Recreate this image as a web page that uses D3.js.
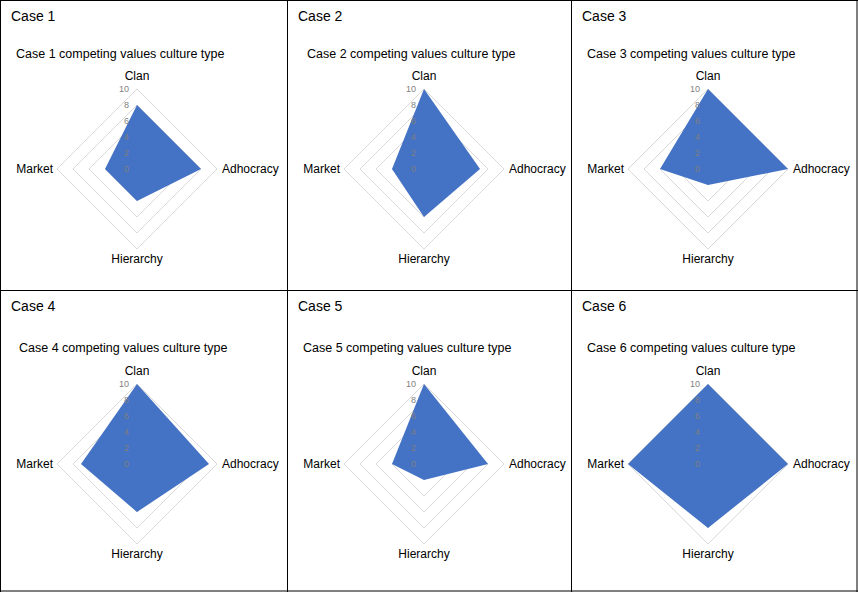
<!DOCTYPE html>
<html>
<head>
<meta charset="utf-8">
<script src="https://cdn.jsdelivr.net/npm/d3@7"></script>
<style>
  body { margin: 0; background: #fff; }
  svg { display: block; font-family: "Liberation Sans", Arial, sans-serif; }
</style>
</head>
<body>
<svg id="chart" width="858" height="592"></svg>
<script>
// data
var cases = ["Case 1", "Case 2", "Case 3", "Case 4", "Case 5", "Case 6"];
var axes = ["Clan", "Adhocracy", "Hierarchy", "Market"];
var clan      = [8, 10, 10, 10, 10, 10];
var adhocracy = [8, 7, 10, 9, 8, 10];
var hierarchy = [4, 6, 2, 6, 2, 8];
var market    = [4, 4, 6, 7, 4, 10];
var ticks = [0, 2, 4, 6, 8, 10];

// layout of the 3 x 2 grid
var colEdges = [0.5, 287.5, 571.5, 857];
var rowEdges = [0.5, 290.5, 591];
var titleDx = [16, 20, 16, 19, 16, 16];
var rowTop = [0, 5]; // second row sits a little lower inside its cell

var svg = d3.select("#chart");
var r = d3.scaleLinear().domain([0, 10]).range([0, 80]);
var angle = d3.scalePoint().domain(axes.concat(["_"])).range([0, 2 * Math.PI]);

var radar = d3.lineRadial()
    .angle(d => angle(d.axis))
    .radius(d => r(d.value))
    .curve(d3.curveLinearClosed);

// panel borders
svg.selectAll(".vline").data(colEdges).enter().append("line")
    .attr("x1", d => d).attr("x2", d => d)
    .attr("y1", 0).attr("y2", 592)
    .attr("stroke", "#000").attr("stroke-width", 1);
svg.selectAll(".hline").data(rowEdges).enter().append("line")
    .attr("x1", 0).attr("x2", 858)
    .attr("y1", d => d).attr("y2", d => d)
    .attr("stroke", "#000").attr("stroke-width", 1);

cases.forEach(function (name, i) {
    var col = i % 3, row = Math.floor(i / 3);
    var x0 = Math.floor(colEdges[col]), y0 = Math.floor(rowEdges[row]);
    var g = svg.append("g").attr("transform", "translate(" + x0 + "," + y0 + ")");

    g.append("text").attr("x", 11).attr("y", 21)
        .attr("font-size", 14).text(name);

    var cy = 169 + rowTop[row];
    g.append("text").attr("x", titleDx[i]).attr("y", 58 + rowTop[row] - (row ? 1 : 0))
        .attr("font-size", 12.5).text(name + " competing values culture type");

    var c = g.append("g").attr("transform", "translate(137," + cy + ")");

    // grid rings
    c.selectAll(".ring").data(ticks.slice(1)).enter().append("path")
        .attr("d", t => radar(axes.map(a => ({ axis: a, value: t }))))
        .attr("fill", "none").attr("stroke", "#d9d9d9").attr("stroke-width", 1);

    var vals = [clan[i], adhocracy[i], hierarchy[i], market[i]];
    c.append("path")
        .attr("d", radar(axes.map((a, k) => ({ axis: a, value: vals[k] }))))
        .attr("fill", "#4472c4");

    // radial tick labels
    c.selectAll(".tick").data(ticks).enter().append("text")
        .attr("x", -8).attr("y", t => -r(t)).attr("dy", "0.35em")
        .attr("text-anchor", "end").attr("font-size", 9).attr("fill", "#7f7f7f")
        .text(t => t);

    // category labels
    c.append("text").attr("x", 0).attr("y", -r(10) - 9)
        .attr("text-anchor", "middle").attr("font-size", 12).text(axes[0]);
    c.append("text").attr("x", r(10) + 5).attr("y", 4)
        .attr("text-anchor", "start").attr("font-size", 12).text(axes[1]);
    c.append("text").attr("x", 0).attr("y", r(10) + 14)
        .attr("text-anchor", "middle").attr("font-size", 12).text(axes[2]);
    c.append("text").attr("x", -r(10) - 4).attr("y", 4)
        .attr("text-anchor", "end").attr("font-size", 12).text(axes[3]);
});
</script>
</body>
</html>
